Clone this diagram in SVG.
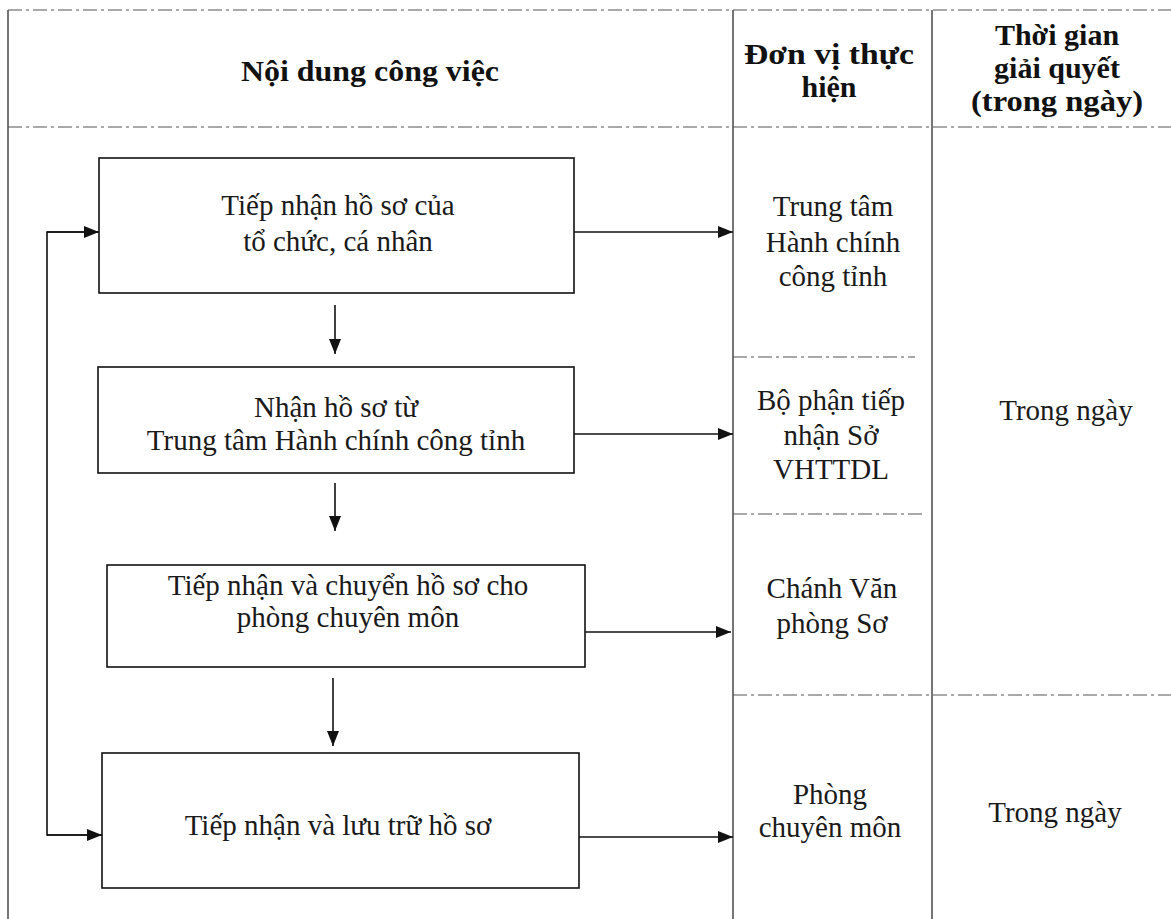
<svg xmlns="http://www.w3.org/2000/svg" width="1171" height="919" viewBox="0 0 1171 919">
  <style>
    .bg { fill: #ffffff; }
    .grid { stroke: #1a1a1a; stroke-width: 1.2; fill: none; }
    .dash { stroke: #555555; stroke-width: 1.2; fill: none; stroke-dasharray: 14 4 3 4; }
    .box { fill: #ffffff; stroke: #111111; stroke-width: 1.6; }
    .conn { stroke: #111111; stroke-width: 1.6; fill: none; }
    .hdr { font-family: "Liberation Serif", "Times New Roman", serif; font-weight: bold; font-size: 30px; fill: #111111; text-anchor: middle; }
    .txt { font-family: "Liberation Serif", "Times New Roman", serif; font-size: 29px; fill: #1a1a1a; text-anchor: middle; }
  </style>
  <defs>
    <marker id="arrow" markerUnits="userSpaceOnUse" markerWidth="16" markerHeight="12" refX="15" refY="6" orient="auto">
      <path d="M0,0 L15,6 L0,12 Z" fill="#111111"/>
    </marker>
  </defs>

  <rect class="bg" x="0" y="0" width="1171" height="919"/>

  <g id="table">
    <line class="grid" x1="8" y1="10" x2="8" y2="919"/>
    <line class="grid" x1="733" y1="10" x2="733" y2="919"/>
    <line class="grid" x1="932" y1="10" x2="932" y2="919"/>
    <line class="dash" x1="8" y1="10" x2="1171" y2="10"/>
    <line class="dash" x1="8" y1="127" x2="1171" y2="127"/>
    <line class="dash" x1="733" y1="357" x2="915" y2="357"/>
    <line class="dash" x1="733" y1="514" x2="925" y2="514"/>
    <line class="dash" x1="733" y1="695" x2="1171" y2="695"/>
  </g>

  <g id="header-content">
    <text class="hdr" x="370" y="81" textLength="258" lengthAdjust="spacingAndGlyphs">Nội dung công việc</text>
  </g>
  <g id="header-unit">
    <text class="hdr" x="829" y="64" textLength="170" lengthAdjust="spacingAndGlyphs">Đơn vị thực</text>
    <text class="hdr" x="829" y="97">hiện</text>
  </g>
  <g id="header-time">
    <text class="hdr" x="1057" y="45">Thời gian</text>
    <text class="hdr" x="1057" y="78">giải quyết</text>
    <text class="hdr" x="1057" y="111" textLength="172" lengthAdjust="spacingAndGlyphs">(trong ngày)</text>
  </g>

  <g id="step1">
    <rect class="box" x="99" y="158" width="475" height="135"/>
    <text class="txt" x="338" y="215">Tiếp nhận hồ sơ của</text>
    <text class="txt" x="338" y="251">tổ chức, cá nhân</text>
  </g>
  <g id="step2">
    <rect class="box" x="98" y="367" width="476" height="106"/>
    <text class="txt" x="336" y="417">Nhận hồ sơ từ</text>
    <text class="txt" x="336" y="450">Trung tâm Hành chính công tỉnh</text>
  </g>
  <g id="step3">
    <rect class="box" x="107" y="565" width="478" height="102"/>
    <text class="txt" x="348" y="595">Tiếp nhận và chuyển hồ sơ cho</text>
    <text class="txt" x="348" y="627">phòng chuyên môn</text>
  </g>
  <g id="step4">
    <rect class="box" x="102" y="753" width="477" height="135"/>
    <text class="txt" x="338" y="835">Tiếp nhận và lưu trữ hồ sơ</text>
  </g>

  <g id="unit1">
    <text class="txt" x="833" y="216">Trung tâm</text>
    <text class="txt" x="833" y="252">Hành chính</text>
    <text class="txt" x="833" y="286">công tỉnh</text>
  </g>
  <g id="unit2">
    <text class="txt" x="831" y="410">Bộ phận tiếp</text>
    <text class="txt" x="831" y="445">nhận Sở</text>
    <text class="txt" x="831" y="479">VHTTDL</text>
  </g>
  <g id="unit3">
    <text class="txt" x="832" y="598">Chánh Văn</text>
    <text class="txt" x="832" y="633">phòng Sơ</text>
  </g>
  <g id="unit4">
    <text class="txt" x="830" y="804">Phòng</text>
    <text class="txt" x="830" y="837">chuyên môn</text>
  </g>
  <g id="time1">
    <text class="txt" x="1066" y="420">Trong ngày</text>
  </g>
  <g id="time2">
    <text class="txt" x="1055" y="822">Trong ngày</text>
  </g>

  <g id="connectors">
    <line class="conn" x1="574" y1="232" x2="733" y2="232" marker-end="url(#arrow)"/>
    <line class="conn" x1="574" y1="434" x2="733" y2="434" marker-end="url(#arrow)"/>
    <line class="conn" x1="585" y1="632" x2="731" y2="632" marker-end="url(#arrow)"/>
    <line class="conn" x1="579" y1="837" x2="733" y2="837" marker-end="url(#arrow)"/>
    <line class="conn" x1="335" y1="305" x2="335" y2="354" marker-end="url(#arrow)"/>
    <line class="conn" x1="335" y1="483" x2="335" y2="531" marker-end="url(#arrow)"/>
    <line class="conn" x1="333" y1="678" x2="333" y2="746" marker-end="url(#arrow)"/>
    <polyline class="conn" points="99,232 47,232 47,835 102,835"/>
    <line class="conn" x1="47" y1="232" x2="99" y2="232" marker-end="url(#arrow)"/>
    <line class="conn" x1="47" y1="835" x2="102" y2="835" marker-end="url(#arrow)"/>
  </g>
</svg>
